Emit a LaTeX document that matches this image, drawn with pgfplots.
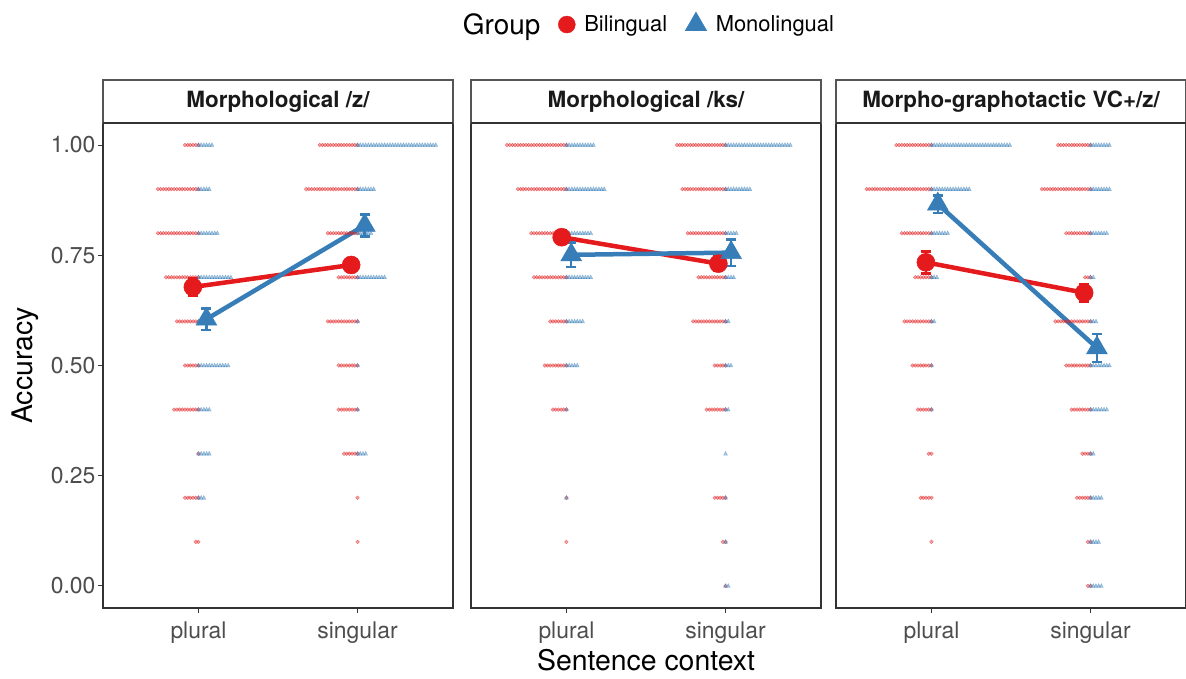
\documentclass[border=0pt]{standalone}
\usepackage{fontspec}
\setmainfont{TeX Gyre Heros}
\usepackage{pgfplots}
\usepackage{pgfplotstable}
\pgfplotsset{compat=1.18}
\definecolor{setred}{HTML}{E41A1C}
\definecolor{setblue}{HTML}{377EB8}
\definecolor{axgray}{HTML}{333333}
\definecolor{stripgray}{HTML}{555555}
\definecolor{tickgray}{HTML}{4D4D4D}

% counts of participants at each accuracy level
% Bp/Mp = Bilingual/Monolingual plural, Bs/Ms = singular
\pgfplotstableread{
y Bp Mp Bs Ms
1.0 6 6 15 30
0.9 16 5 20 7
0.8 16 8 12 6
0.7 13 13 8 11
0.6 9 3 12 1
0.5 6 12 8 1
0.4 10 5 8 1
0.3 1 5 6 4
0.2 6 3 1 0
0.1 2 0 1 0
0.0 0 0 0 0
}\cOne
\pgfplotstableread{
y Bp Mp Bs Ms
1.0 23 11 19 25
0.9 19 15 17 10
0.8 14 10 15 5
0.7 13 10 11 4
0.6 7 7 13 2
0.5 9 5 5 3
0.4 6 1 8 2
0.3 0 0 0 1
0.2 1 1 5 1
0.1 1 0 2 1
0.0 0 0 1 2
}\cTwo
\pgfplotstableread{
y Bp Mp Bs Ms
1.0 14 30 13 8
0.9 25 15 19 8
0.8 12 7 10 7
0.7 7 3 3 2
0.6 11 2 14 3
0.5 8 1 10 8
0.4 6 1 8 7
0.3 2 0 4 2
0.2 5 0 6 5
0.1 1 0 2 4
0.0 0 0 2 5
}\cThree

% means with error (dodged x positions)
\pgfplotstableread{
x y e
0.965 0.678 0.019
1.96 0.728 0.016
}\mOneB
\pgfplotstableread{
x y e
1.05 0.605 0.024
2.045 0.818 0.025
}\mOneM
\pgfplotstableread{
x y e
0.97 0.791 0.015
1.955 0.731 0.016
}\mTwoB
\pgfplotstableread{
x y e
1.03 0.751 0.028
2.035 0.756 0.030
}\mTwoM
\pgfplotstableread{
x y e
0.965 0.734 0.025
1.96 0.665 0.020
}\mThreeB
\pgfplotstableread{
x y e
1.04 0.866 0.020
2.04 0.540 0.032
}\mThreeM

\newcount\dotcnt
\newcount\dotk
\pgfdeclareplotmark{dotsL}{%
  \dotk=0
  \loop\ifnum\dotk<\dotcnt
    \pgfpathcircle{\pgfpoint{-\dotk*2.7bp}{0bp}}{1.9bp}%
    \pgfusepath{fill,stroke}%
    \advance\dotk by 1
  \repeat
}
\pgfdeclareplotmark{trisR}{%
  \dotk=0
  \loop\ifnum\dotk<\dotcnt
    \pgfpathmoveto{\pgfpoint{\dotk*2.7bp}{2.4bp}}%
    \pgfpathlineto{\pgfpoint{\dotk*2.7bp-2.0bp}{-1.5bp}}%
    \pgfpathlineto{\pgfpoint{\dotk*2.7bp+2.0bp}{-1.5bp}}%
    \pgfpathclose
    \pgfusepath{fill,stroke}%
    \advance\dotk by 1
  \repeat
}

\pgfplotsset{
  facet/.style={
    scale only axis, width=350bp, height=485bp, anchor=south west,
    xmin=0.4, xmax=2.6, ymin=-0.05, ymax=1.05,
    xtick={1,2}, xticklabels={plural,singular},
    ytick={0,0.25,0.5,0.75,1},
    axis line style={color=axgray, line width=1.2bp},
    tick style={color=axgray, line width=1bp},
    major tick length=5bp, tick align=outside,
    xtick pos=bottom, ytick pos=left,
    tick label style={font=\fontsize{23}{23}\selectfont, color=tickgray},
    yticklabel style={xshift=1bp, /pgf/number format/.cd, fixed, fixed zerofill, precision=2, assume math mode=true},
    xticklabel style={yshift=-5bp},
    clip=false,
  },
  dotbase/.style={only marks, scatter, point meta=explicit symbolic, forget plot,
    scatter/@pre marker code/.code={\pgfmathtruncatemacro\tmpcnt{\pgfplotspointmeta}\global\dotcnt=\tmpcnt\relax\scope},
    scatter/@post marker code/.code={\endscope}},
  dotB/.style={dotbase, mark=dotsL, color=setred,
    mark options={fill opacity=0.4, draw opacity=0.55, line width=0.35bp}},
  dotM/.style={dotbase, mark=trisR, color=setblue,
    mark options={fill opacity=0.45, draw opacity=0.5, line width=0.3bp}},
  meanB/.style={setred, line width=4.5bp, mark=*, mark size=9bp, forget plot,
    mark options={line width=0.5bp},
    error bars/.cd, y dir=both, y explicit,
    error bar style={line width=2.5bp},
    error mark options={rotate=90, mark size=5bp, line width=2.5bp}},
  meanM/.style={setblue, line width=4.5bp, mark=triangle*, mark size=12bp, forget plot,
    mark options={line width=0.5bp},
    error bars/.cd, y dir=both, y explicit,
    error bar style={line width=2.5bp},
    error mark options={rotate=90, mark size=5bp, line width=2.5bp}},
}

\newcommand{\strip}[1]{%
  \draw[color=stripgray, line width=1.2bp, fill=white] (axis description cs:0,1) rectangle (axis description cs:1,1.0887);
  \draw[color=axgray, line width=1.8bp] (axis description cs:0,1) -- (axis description cs:1,1);
  \node[font=\fontsize{22.5}{22.5}\selectfont\bfseries, color=black!90] at (axis description cs:0.5,1.0443) {#1};
}

\newcommand{\dotstrips}[1]{%
  \addplot[dotB] table[x expr=1, y=y, meta=Bp] {#1};
  \addplot[dotB] table[x expr=2, y=y, meta=Bs] {#1};
  \addplot[dotM] table[x expr=1, y=y, meta=Mp] {#1};
  \addplot[dotM] table[x expr=2, y=y, meta=Ms] {#1};
}

\begin{document}
\begin{tikzpicture}
\useasboundingbox (0,0) rectangle (1186bp,679bp);

\begin{axis}[facet, name=ax1, at={(103bp,71bp)},
  ylabel={Accuracy},
  ylabel style={at={(axis description cs:-0.223,0.5)}, anchor=center, font=\fontsize{28.5}{28.5}\selectfont},
]
\dotstrips{\cOne}
\addplot[meanB] table[x=x, y=y, y error=e] {\mOneB};
\addplot[meanM] table[x=x, y=y, y error=e] {\mOneM};
\strip{Morphological /z/}
\end{axis}

\begin{axis}[facet, name=ax2, at={(471bp,71bp)}, ytick=\empty,
  xlabel={Sentence context},
  xlabel style={at={(axis description cs:0.5,-0.107)}, anchor=center, font=\fontsize{28.5}{28.5}\selectfont},
  legend columns=-1,
  legend style={at={(axis description cs:0.497,1.203)}, anchor=center, draw=none, fill=none,
    font=\fontsize{22}{22}\selectfont,
    /tikz/every odd column/.style={column sep=7bp},
    /tikz/every even column/.style={column sep=16bp}},
  legend image code/.code={\draw[#1] plot coordinates {(0bp,0bp)};},
]
\dotstrips{\cTwo}
\addplot[meanB] table[x=x, y=y, y error=e] {\mTwoB};
\addplot[meanM] table[x=x, y=y, y error=e] {\mTwoM};
\addlegendimage{empty legend}
\addlegendentry{\fontsize{28}{28}\selectfont Group}
\addlegendimage{only marks, mark=*, mark size=8.5bp, color=setred}
\addlegendentry{Bilingual}
\addlegendimage{only marks, mark=triangle*, mark size=12.5bp, color=setblue}
\addlegendentry{Monolingual}
\strip{Morphological /ks/}
\end{axis}

\begin{axis}[facet, name=ax3, at={(836bp,71bp)}, ytick=\empty]
\dotstrips{\cThree}
\addplot[meanB] table[x=x, y=y, y error=e] {\mThreeB};
\addplot[meanM] table[x=x, y=y, y error=e] {\mThreeM};
\strip{Morpho-graphotactic VC+/z/}
\end{axis}
\end{tikzpicture}
\end{document}
